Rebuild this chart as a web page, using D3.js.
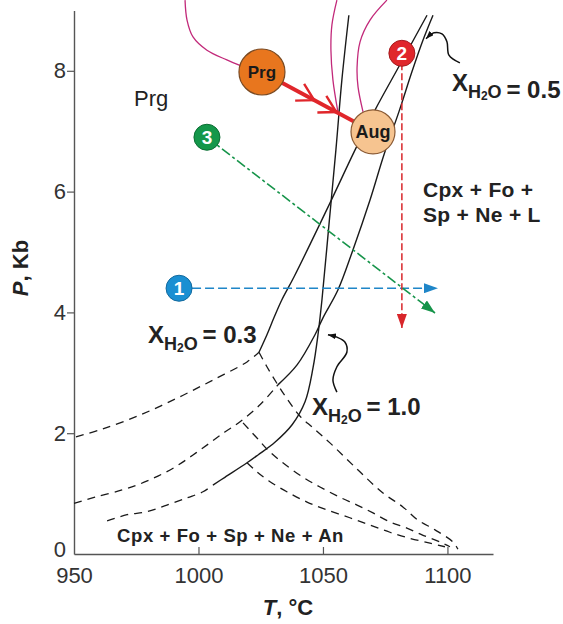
<!DOCTYPE html>
<html><head><meta charset="utf-8">
<script src="https://cdn.jsdelivr.net/npm/d3@7"></script>
<style>body{margin:0;background:#fff}svg{display:block}</style>
</head><body><svg id="c" width="563" height="624"></svg>
<script>
// ---------- data (T in °C, P in kb) ----------
const xTicks = [950, 1000, 1050, 1100];
const yTicks = [0, 2, 4, 6, 8];

const solid03 = [[1024.3,3.34],[1027.5,3.63],[1030.3,3.91],[1033.5,4.21],[1038.4,4.59],[1052.8,5.81],[1062.9,6.69],[1070.9,7.35],[1080.9,8.10],[1091.8,8.92]];
const solid05 = [[1031.9,2.80],[1039.6,3.13],[1046.8,3.63],[1050.0,3.91],[1056.0,4.37],[1062.0,5.03],[1068.9,5.86],[1074.5,6.61],[1080.5,7.32],[1085.7,7.98],[1090.2,8.51],[1094.2,8.92]];
const solid10 = [[1005.8,1.14],[1010.6,1.27],[1019.5,1.51],[1023.9,1.64],[1030.7,1.85],[1037.6,2.14],[1042.8,2.52],[1046.0,3.08],[1048.0,3.63],[1049.6,4.21],[1052.4,5.45],[1055.2,6.69],[1057.6,7.85],[1060.4,8.92]];

const dashed03Left = [[950.8,1.94],[961.6,2.07],[976.5,2.30],[991.4,2.58],[1005.8,2.88],[1019.5,3.18],[1024.3,3.34]];
const dashed05Left = [[950.0,0.84],[958.4,0.94],[969.3,1.06],[976.5,1.16],[983.7,1.29],[990.6,1.44],[997.8,1.64],[1004.6,1.84],[1010.6,2.02],[1016.7,2.19],[1024.7,2.47],[1031.9,2.80]];
const dashed10Left = [[963.3,0.55],[971.3,0.65],[979.3,0.70],[987.3,0.81],[995.4,0.93],[1001.8,1.03],[1005.8,1.14]];

const falling1 = [[1024.3,3.34],[1027.5,3.10],[1031.9,2.80],[1035.9,2.55],[1040.8,2.28],[1046.0,2.09],[1052.8,1.84],[1064.1,1.39],[1074.1,1.01],[1082.1,0.78],[1088.2,0.56],[1095.0,0.40],[1102.2,0.20],[1104.2,0.08]];
const falling2 = [[1017.9,2.17],[1023.5,1.92],[1027.9,1.72],[1033.9,1.51],[1042.0,1.27],[1048.8,1.11],[1056.8,0.94],[1063.7,0.81],[1070.1,0.68],[1076.9,0.53],[1083.7,0.43],[1090.2,0.31],[1097.0,0.20],[1101.0,0.12]];
const falling3 = [[1019.5,1.51],[1023.5,1.36],[1028.3,1.21],[1035.5,1.03],[1043.6,0.86],[1051.6,0.73],[1060.8,0.60],[1068.9,0.48],[1076.9,0.36],[1084.9,0.26],[1093.0,0.18],[1099.0,0.12]];

const magentaLeft  = [[994.6,9.17],[995.4,8.84],[997.8,8.56],[1003.4,8.34],[1011.4,8.18],[1017.1,8.08]];
const magentaMid   = [[1055.6,9.17],[1053.6,8.76],[1053.2,8.34],[1054.0,7.85],[1056.0,7.32]];
const magentaRight = [[1075.7,9.17],[1068.9,8.84],[1064.9,8.48],[1063.7,8.06],[1064.1,7.73],[1066.1,7.32]];

const prgPoint = [1025.5, 7.98];
const augPoint = [1070.1, 6.99];

const path1 = [[992.2,4.40],[1096.2,4.40]];
const path2 = [[1081.7,8.29],[1081.7,3.74]];
const path3 = [[1003.4,6.90],[1095.0,3.99]];

const callout05 = [[1105.0,8.13],[1100.6,8.26],[1099.8,8.48],[1097.8,8.61],[1094.6,8.63],[1091.4,8.53]];
const callout10 = [[1055.6,2.68],[1054.0,2.88],[1055.6,3.10],[1059.6,3.34],[1058.8,3.51],[1055.6,3.59],[1052.0,3.63]];

const labelPrg = [974.1, 7.42];
const labelUpperField = [1090.2, 5.91];
const labelLowerField = [967.3, 0.20];
const labelX03 = [979.7, 3.49];
const labelX05 = [1101.8, 7.67];
const labelX10 = [1045.6, 2.30];

// ---------- chart ----------
const svg = d3.select('#c');
const FONT = "'Liberation Sans', Arial, Helvetica, sans-serif";
const x = d3.scaleLinear().domain([950, 1118.3]).range([74, 493]);
const y = d3.scaleLinear().domain([0, 9]).range([554, 10.4]);
const line = d3.line().x(d => x(d[0])).y(d => y(d[1])).curve(d3.curveCatmullRom.alpha(0.5));
const straight = d3.line().x(d => x(d[0])).y(d => y(d[1]));

const defs = svg.append('defs');
function marker(id, color, len, wid) {
  defs.append('marker').attr('id', id)
    .attr('viewBox', `0 0 ${len} ${wid}`).attr('refX', len).attr('refY', wid / 2)
    .attr('markerWidth', len).attr('markerHeight', wid)
    .attr('markerUnits', 'userSpaceOnUse').attr('orient', 'auto')
    .append('path').attr('d', `M0,0L${len},${wid / 2}L0,${wid}Z`).attr('fill', color);
}
marker('mBlue', '#1f86c8', 14, 10);
marker('mRed', '#d8262b', 14, 10);
marker('mGreen', '#16944a', 14, 10);
marker('mBlack', '#111', 8, 6);

// axes
const yAxis = d3.axisLeft(y).tickValues(yTicks).tickSizeInner(7).tickSizeOuter(0).tickPadding(1).tickFormat(d3.format('d'));
const gy = svg.append('g').attr('transform', 'translate(74,0)').call(yAxis);
const xAxis = d3.axisBottom(x).tickValues(xTicks).tickSizeInner(-7).tickSizeOuter(0).tickPadding(13).tickFormat(d3.format('d'));
const gx = svg.append('g').attr('transform', 'translate(0,554)').call(xAxis);
[gx, gy].forEach(g => {
  g.select('.domain').attr('stroke', '#555').attr('stroke-width', 1.4);
  g.selectAll('.tick line').attr('stroke', '#555').attr('stroke-width', 1.2);
  g.selectAll('.tick text').attr('font-family', FONT).attr('font-size', 22).attr('fill', '#333');
});
gy.selectAll('.tick').filter(d => d === 0).select('line').remove();
gy.selectAll('.tick').filter(d => d === 0).select('text').attr('dy', '0.12em');
gx.selectAll('.tick').filter(d => d === 950).select('line').remove();
gx.selectAll('.tick').filter(d => d === 950).select('text').attr('dy', '0.74em');

// magenta curves
[magentaLeft, magentaMid, magentaRight].forEach(c =>
  svg.append('path').attr('d', line(c)).attr('fill', 'none').attr('stroke', '#c2297a').attr('stroke-width', 1.3));

// black solid
[solid03, solid05, solid10].forEach(c =>
  svg.append('path').attr('d', line(c)).attr('fill', 'none').attr('stroke', '#1a1a1a').attr('stroke-width', 1.4));
// black dashed
[dashed03Left, dashed05Left, dashed10Left, falling1, falling2, falling3].forEach(c =>
  svg.append('path').attr('d', line(c)).attr('fill', 'none').attr('stroke', '#1a1a1a').attr('stroke-width', 1.3).attr('stroke-dasharray', '8,6'));

// coloured paths
svg.append('path').attr('d', straight(path1)).attr('fill', 'none').attr('stroke', '#1f86c8').attr('stroke-width', 1.6).attr('stroke-dasharray', '9,4').attr('marker-end', 'url(#mBlue)');
svg.append('path').attr('d', straight(path2)).attr('fill', 'none').attr('stroke', '#d8262b').attr('stroke-width', 1.5).attr('stroke-dasharray', '7,3').attr('marker-end', 'url(#mRed)');
svg.append('path').attr('d', straight(path3)).attr('fill', 'none').attr('stroke', '#16944a').attr('stroke-width', 1.6).attr('stroke-dasharray', '10,3,3,3').attr('marker-end', 'url(#mGreen)');

// callouts
[callout05, callout10].forEach(c =>
  svg.append('path').attr('d', line(c)).attr('fill', 'none').attr('stroke', '#111').attr('stroke-width', 1.5).attr('marker-end', 'url(#mBlack)'));

// red reaction arrow Prg -> Aug
const p0 = [x(prgPoint[0]), y(prgPoint[1])], p1 = [x(augPoint[0]), y(augPoint[1])];
svg.append('line').attr('x1', p0[0]).attr('y1', p0[1]).attr('x2', p1[0]).attr('y2', p1[1]).attr('stroke', '#e0262b').attr('stroke-width', 4);
const ang = Math.atan2(p1[1] - p0[1], p1[0] - p0[0]);
[0.47, 0.67].forEach(t => {
  const tx = p0[0] + (p1[0] - p0[0]) * t, ty = p0[1] + (p1[1] - p0[1]) * t;
  const L = 19, s = 0.52;
  const a1 = ang + Math.PI - s, a2 = ang + Math.PI + s;
  svg.append('path').attr('d', `M${tx + L * Math.cos(a1)},${ty + L * Math.sin(a1)}L${tx},${ty}L${tx + L * Math.cos(a2)},${ty + L * Math.sin(a2)}`)
    .attr('fill', 'none').attr('stroke', '#e0262b').attr('stroke-width', 2.4);
});

// mineral circles
function mineral(pt, r, fill, stroke, label, fs) {
  svg.append('circle').attr('cx', x(pt[0])).attr('cy', y(pt[1])).attr('r', r).attr('fill', fill).attr('stroke', stroke).attr('stroke-width', 1.2);
  svg.append('text').attr('x', x(pt[0])).attr('y', y(pt[1])).attr('dy', '0.36em').attr('text-anchor', 'middle')
    .attr('font-family', FONT).attr('font-weight', 'bold').attr('font-size', fs).attr('fill', '#1a1a1a').text(label);
}
mineral(prgPoint, 23, '#e8761e', '#7a4a22', 'Prg', 17);
mineral(augPoint, 22, '#f6c490', '#8a5a34', 'Aug', 18);

// numbered start circles
function num(pt, fill, stroke, label) {
  svg.append('circle').attr('cx', x(pt[0])).attr('cy', y(pt[1])).attr('r', 13).attr('fill', fill).attr('stroke', stroke).attr('stroke-width', 1);
  svg.append('text').attr('x', x(pt[0])).attr('y', y(pt[1])).attr('dy', '0.36em').attr('text-anchor', 'middle')
    .attr('font-family', FONT).attr('font-weight', 'bold').attr('font-size', 19).attr('fill', '#fff').text(label);
}
num(path1[0], '#1a8fd2', '#136a9e', '1');
num(path2[0], '#e0262b', '#a51c1f', '2');
num(path3[0], '#14974a', '#0c6e34', '3');

// labels
svg.append('text').attr('x', x(labelPrg[0])).attr('y', y(labelPrg[1])).attr('font-family', FONT).attr('font-size', 22).attr('fill', '#222').text('Prg');
const uf = svg.append('text').attr('font-family', FONT).attr('font-weight', 'bold').attr('font-size', 21).attr('letter-spacing', 0.3).attr('fill', '#222');
uf.append('tspan').attr('x', x(labelUpperField[0])).attr('y', y(labelUpperField[1])).text('Cpx + Fo +');
uf.append('tspan').attr('x', x(labelUpperField[0])).attr('dy', 25).text('Sp + Ne + L');
svg.append('text').attr('x', x(labelLowerField[0])).attr('y', y(labelLowerField[1])).attr('font-family', FONT).attr('font-weight', 'bold').attr('font-size', 18.5).attr('letter-spacing', 0.6).attr('fill', '#222').text('Cpx + Fo + Sp + Ne + An');

function xLabel(pt, val, tailDy) {
  const t = svg.append('text').attr('x', x(pt[0])).attr('y', y(pt[1])).attr('font-family', FONT).attr('font-weight', 'bold').attr('fill', '#222');
  t.append('tspan').attr('font-size', 24).text('X');
  t.append('tspan').attr('font-size', 18).attr('dy', 7).text('H');
  t.append('tspan').attr('font-size', 12).attr('dy', 2).text('2');
  t.append('tspan').attr('font-size', 18).attr('dy', -2).text('O');
  t.append('tspan').attr('font-size', 24).attr('dy', tailDy).text('\u2009= ' + val);
}
xLabel(labelX03, '0.3', -7);
xLabel(labelX05, '0.5', 0);
xLabel(labelX10, '1.0', -7);

// axis titles
const tt = svg.append('text').attr('x', 288).attr('y', 615).attr('text-anchor', 'middle').attr('font-family', FONT).attr('font-weight', 'bold').attr('font-size', 22).attr('fill', '#222');
tt.append('tspan').attr('font-style', 'italic').text('T');
tt.append('tspan').text(', °C');
const pt = svg.append('text').attr('transform', 'translate(28,268) rotate(-90)').attr('text-anchor', 'middle').attr('font-family', FONT).attr('font-weight', 'bold').attr('font-size', 22).attr('fill', '#222');
pt.append('tspan').attr('font-style', 'italic').text('P');
pt.append('tspan').text(', Kb');
</script></body></html>
